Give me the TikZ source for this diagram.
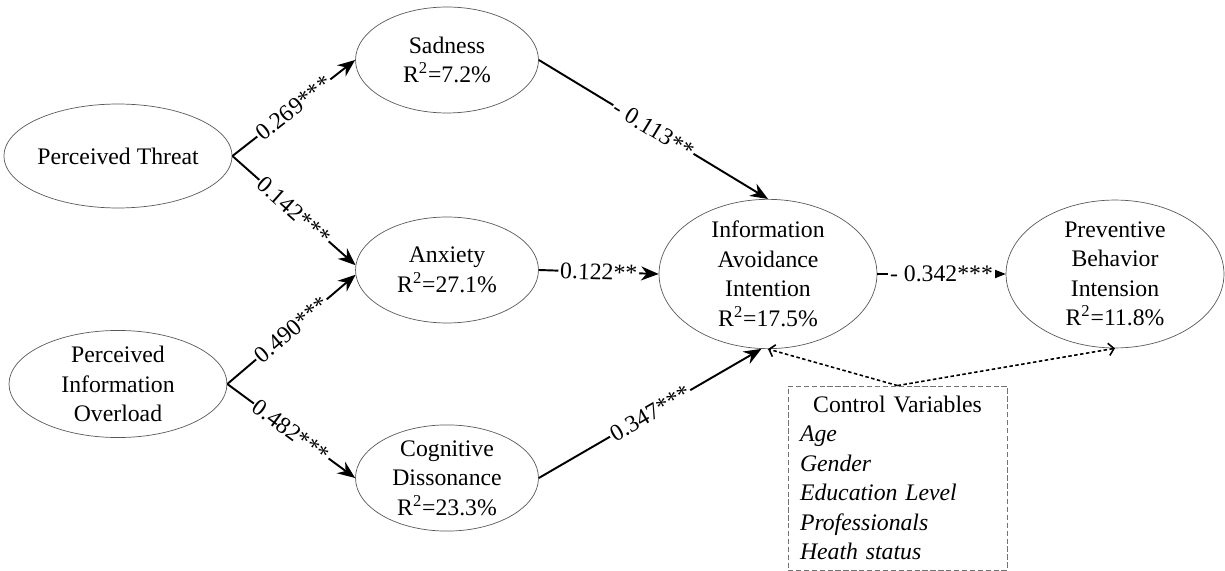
\documentclass[tikz,border=0pt]{standalone}
\usepackage{fontspec}
\setmainfont{Liberation Serif}
\usetikzlibrary{shapes.geometric,arrows.meta}

\begin{document}
\begin{tikzpicture}[x=0.02cm, y=-0.02cm, font=\fontsize{13.5}{16.8}\selectfont,
  construct/.style={draw=black!65, line width=0.4pt, ellipse, align=center, inner sep=0pt, minimum width=3.66cm, minimum height=2.12cm},
  exogenous/.style={construct, minimum width=4.36cm, minimum height=2.08cm},
  outcome/.style={construct, minimum width=4.36cm, minimum height=2.56cm},
  pathline/.style={-{Stealth[length=10pt, width=8pt]}, line width=1.1pt},
  ctrlline/.style={-{Straight Barb[length=3pt, width=7pt]}, line width=0.9pt, dash pattern=on 2pt off 1.4pt},
  coef/.style={sloped, fill=white, inner sep=1pt}]
\useasboundingbox (0,0) rectangle (1225,571);
\node[exogenous] (threat) at (118,156) {Perceived Threat};
\node[exogenous] (overload) at (118,384) {Perceived\\Information\\Overload};
\node[construct] (sad) at (447,60) {Sadness\\R\textsuperscript{2}=7.2\%};
\node[construct] (anx) at (447,270) {Anxiety\\R\textsuperscript{2}=27.1\%};
\node[construct] (cog) at (447,478) {Cognitive\\Dissonance\\R\textsuperscript{2}=23.3\%};
\node[outcome] (avoid) at (768,274) {Information\\Avoidance\\Intention\\R\textsuperscript{2}=17.5\%};
\node[outcome] (prev) at (1115,274) {Preventive\\Behavior\\Intension\\R\textsuperscript{2}=11.8\%};
\node[draw=black!55, line width=0.5pt, dash pattern=on 3pt off 1.5pt, align=left, text width=3.9cm, inner xsep=6pt, minimum width=4.38cm, minimum height=3.68cm] (ctrl) at (897.5,478)
  {\hfil Control Variables\hfil\\ \textit{Age}\\ \textit{Gender}\\ \textit{Education Level}\\ \textit{Professionals}\\ \textit{Heath status}};
\draw[pathline] (threat.east) -- node[coef] {0.269***} (sad.west);
\draw[pathline] (threat.east) -- node[coef] {0.142***} (anx.177);
\draw[pathline] (overload.east) -- node[coef] {0.490***} (anx.183);
\draw[pathline] (overload.east) -- node[coef] {0.482***} (cog.west);
\draw[pathline] (sad.east) -- node[coef] {- 0.113**} (avoid.north);
\draw[pathline] (anx.east) -- node[coef] {0.122**} (avoid.west);
\draw[pathline] (cog.east) -- node[coef] {0.347***} (avoid.265);
\draw[pathline] (avoid.east) -- node[coef] {- 0.342***} (prev.west);
\draw[ctrlline] (ctrl.north) -- (avoid.south);
\draw[ctrlline] (ctrl.north) -- (prev.south);
\end{tikzpicture}
\end{document}
